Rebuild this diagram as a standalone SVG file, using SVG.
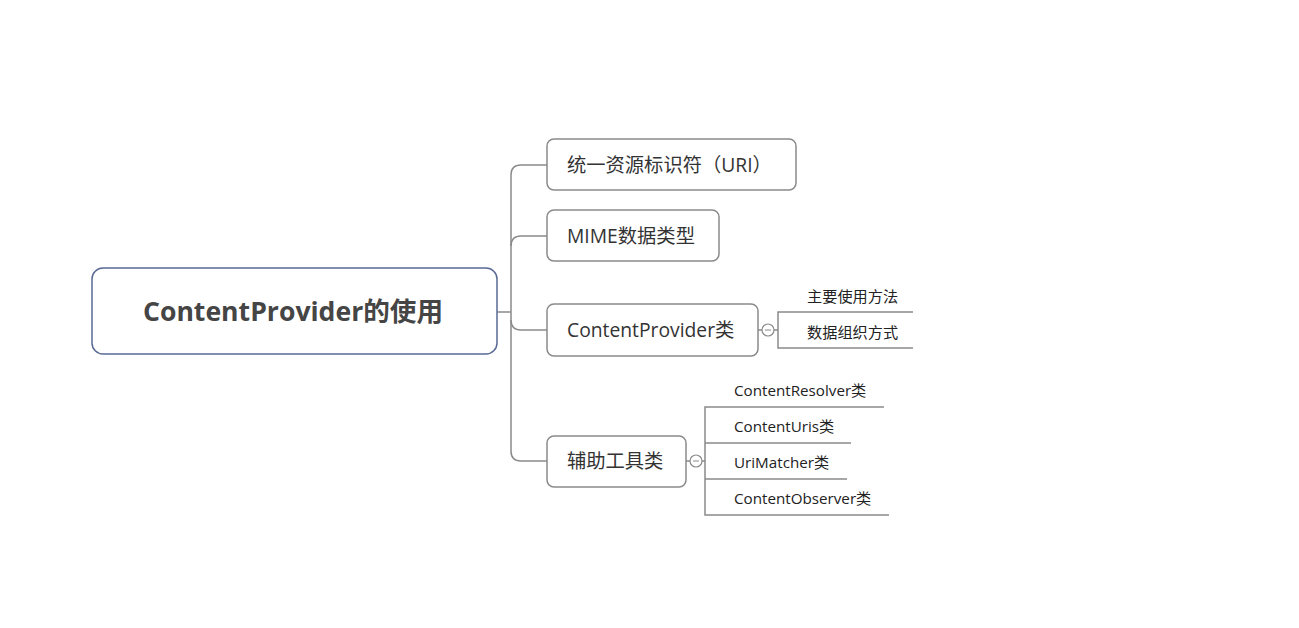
<svg xmlns="http://www.w3.org/2000/svg" width="1299" height="628" viewBox="0 0 1299 628">
<style>
.box{fill:#fff;stroke:#8a8a8a;stroke-width:1.5}
.root{fill:#fff;stroke:#5a6a95;stroke-width:1.5}
.ln{fill:none;stroke:#8a8a8a;stroke-width:1.5}
.t1{font-family:"Open Sans","Noto Sans CJK SC",sans-serif;font-size:19.3px;fill:#333}
.t0{font-family:"Open Sans","Noto Sans CJK SC",sans-serif;font-size:26.6px;font-weight:bold;fill:#454545}
.t2{font-family:"Open Sans","Noto Sans CJK SC",sans-serif;font-size:15.2px;fill:#222}
.col{fill:#fff;stroke:#8a8a8a;stroke-width:1.2}
</style>
<rect width="1299" height="628" fill="#fff"/>
<g id="connectors">
<path class="ln" d="M497,312 H511"/>
<path class="ln" d="M547,165 H521 Q511,165 511,175 V451 Q511,461 521,461 H547"/>
<path class="ln" d="M547,236 H521 Q511,236 511,246"/>
<path class="ln" d="M547,330 H521 Q511,330 511,320"/>
<path class="ln" d="M758,330 H762 M774,330 H778"/>
<path class="ln" d="M913,312 H778 V348 H913"/>
<path class="ln" d="M686,461 H691 M702,461 H705"/>
<path class="ln" d="M884,407 H705 V515 H889"/>
<path class="ln" d="M705,443 H851"/>
<path class="ln" d="M705,479 H847"/>
</g>
<g id="root">
<rect class="root" x="92" y="268" width="405" height="86" rx="11"/>
<text class="t0" x="293" y="321" text-anchor="middle">ContentProvider的使用</text>
</g>
<g id="uri">
<rect class="box" x="547" y="139" width="249" height="51" rx="7"/>
<text class="t1" x="567" y="172">统一资源标识符（URI）</text>
</g>
<g id="mime">
<rect class="box" x="547" y="210" width="172" height="51" rx="7"/>
<text class="t1" x="567" y="243">MIME数据类型</text>
</g>
<g id="cpclass">
<rect class="box" x="547" y="304" width="211" height="52" rx="7"/>
<text class="t1" x="567" y="337">ContentProvider类</text>
<circle class="col" cx="768" cy="330" r="6"/>
<path d="M765,330 H771" stroke="#8a8a8a" stroke-width="1"/>
</g>
<g id="usage"><text class="t2" x="807" y="302">主要使用方法</text></g>
<g id="org"><text class="t2" x="807" y="338">数据组织方式</text></g>
<g id="tools">
<rect class="box" x="547" y="436" width="139" height="51" rx="7"/>
<text class="t1" x="567" y="468">辅助工具类</text>
<circle class="col" cx="696" cy="461" r="6"/>
<path d="M693,461 H699" stroke="#8a8a8a" stroke-width="1"/>
</g>
<g id="resolver"><text class="t2" x="734" y="396">ContentResolver类</text></g>
<g id="uris"><text class="t2" x="734" y="432">ContentUris类</text></g>
<g id="matcher"><text class="t2" x="734" y="468">UriMatcher类</text></g>
<g id="observer"><text class="t2" x="734" y="504">ContentObserver类</text></g>
</svg>
